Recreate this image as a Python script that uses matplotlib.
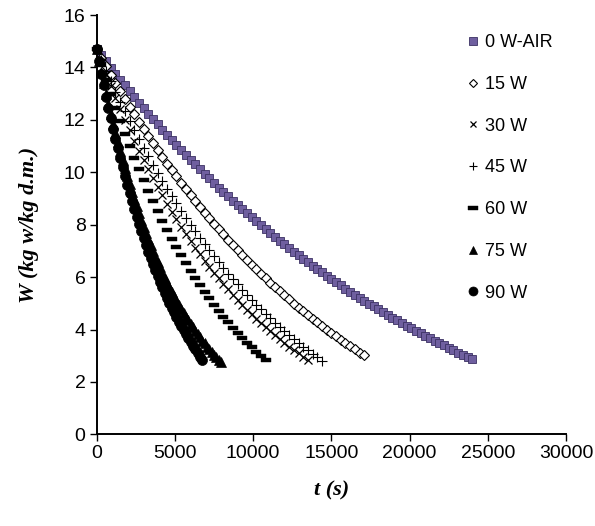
import matplotlib
matplotlib.use("Agg")
import matplotlib.pyplot as plt
import numpy as np

# drying curves: moisture content W (kg w/kg d.m.) vs time t (s)
labels = ["0 W-AIR", "15 W", "30 W", "45 W", "60 W", "75 W", "90 W"]

w_0 = [14.70, 14.46, 14.23, 13.99, 13.77, 13.54, 13.32, 13.10, 12.88, 12.66,
       12.45, 12.24, 12.04, 11.83, 11.63, 11.44, 11.24, 11.05, 10.86, 10.67,
       10.48, 10.30, 10.12, 9.94, 9.77, 9.59, 9.42, 9.25, 9.09, 8.92,
       8.76, 8.60, 8.44, 8.29, 8.13, 7.98, 7.83, 7.68, 7.54, 7.39,
       7.25, 7.11, 6.97, 6.84, 6.70, 6.57, 6.44, 6.31, 6.18, 6.05,
       5.93, 5.81, 5.68, 5.56, 5.45, 5.33, 5.22, 5.10, 4.99, 4.88,
       4.77, 4.66, 4.56, 4.45, 4.35, 4.25, 4.15, 4.05, 3.95, 3.85,
       3.76, 3.66, 3.57, 3.48, 3.39, 3.30, 3.21, 3.12, 3.04, 2.95, 2.87]
w_15 = [14.70, 14.37, 14.04, 13.73, 13.41, 13.11, 12.80, 12.51, 12.22, 11.93,
        11.66, 11.38, 11.11, 10.85, 10.59, 10.33, 10.08, 9.84, 9.60, 9.36,
        9.13, 8.90, 8.68, 8.46, 8.25, 8.04, 7.83, 7.63, 7.43, 7.23,
        7.04, 6.85, 6.66, 6.48, 6.30, 6.13, 5.96, 5.79, 5.62, 5.46,
        5.30, 5.15, 4.99, 4.84, 4.69, 4.55, 4.41, 4.27, 4.13, 4.00,
        3.86, 3.74, 3.61, 3.48, 3.36, 3.24, 3.12, 3.01]
w_30 = [14.70, 14.21, 13.74, 13.29, 12.85, 12.42, 12.00, 11.60, 11.21, 10.83,
        10.47, 10.11, 9.77, 9.44, 9.12, 8.80, 8.50, 8.21, 7.92, 7.65,
        7.38, 7.12, 6.87, 6.63, 6.40, 6.17, 5.95, 5.73, 5.53, 5.33,
        5.13, 4.94, 4.76, 4.58, 4.41, 4.25, 4.08, 3.93, 3.78, 3.63,
        3.49, 3.35, 3.22, 3.09, 2.97, 2.84]
w_45 = [14.70, 14.28, 13.87, 13.47, 13.08, 12.70, 12.33, 11.97, 11.61, 11.27,
        10.94, 10.61, 10.29, 9.98, 9.67, 9.38, 9.09, 8.81, 8.53, 8.26,
        8.00, 7.75, 7.50, 7.26, 7.02, 6.79, 6.57, 6.35, 6.13, 5.92,
        5.72, 5.52, 5.33, 5.14, 4.95, 4.78, 4.60, 4.43, 4.26, 4.10,
        3.94, 3.79, 3.64, 3.49, 3.35, 3.21, 3.07, 2.94, 2.81]
w_60 = [14.70, 14.11, 13.54, 12.99, 12.47, 11.96, 11.47, 11.00, 10.55, 10.11,
        9.69, 9.28, 8.89, 8.52, 8.15, 7.80, 7.47, 7.14, 6.83, 6.53,
        6.24, 5.96, 5.69, 5.44, 5.19, 4.95, 4.72, 4.49, 4.28, 4.07,
        3.87, 3.68, 3.50, 3.32, 3.15, 2.98, 2.83]
w_75 = [14.70, 14.26, 13.83, 13.41, 13.00, 12.61, 12.23, 11.86, 11.50, 11.15,
        10.81, 10.48, 10.16, 9.85, 9.55, 9.26, 8.98, 8.70, 8.44, 8.18,
        7.93, 7.68, 7.45, 7.22, 7.00, 6.78, 6.57, 6.37, 6.17, 5.98,
        5.79, 5.61, 5.44, 5.27, 5.10, 4.94, 4.79, 4.64, 4.49, 4.35,
        4.21, 4.08, 3.95, 3.82, 3.70, 3.58, 3.47, 3.35, 3.25, 3.14,
        3.04, 2.94, 2.84, 2.75]
w_90 = [14.70, 14.23, 13.77, 13.32, 12.89, 12.47, 12.06, 11.67, 11.29, 10.91,
        10.55, 10.20, 9.86, 9.53, 9.21, 8.90, 8.60, 8.31, 8.02, 7.75,
        7.48, 7.22, 6.97, 6.73, 6.49, 6.26, 6.03, 5.82, 5.61, 5.40,
        5.21, 5.01, 4.83, 4.65, 4.47, 4.30, 4.13, 3.97, 3.82, 3.67,
        3.52, 3.38, 3.24, 3.10, 2.97, 2.85]

# sampling interval (s) of each run
steps = [300, 300, 300, 300, 300, 150, 150]
series = [w_0, w_15, w_30, w_45, w_60, w_75, w_90]

dash = [(-1, -0.38), (1, -0.38), (1, 0.38), (-1, 0.38), (-1, -0.38)]
styles = [
    dict(marker="s", ms=6.3, mfc="#6f5f9f", mec="#3b3163", mew=0.6),
    dict(marker="D", ms=4.8, mfc="white", mec="black", mew=0.8),
    dict(marker="x", ms=5.3, mfc="black", mec="black", mew=0.9),
    dict(marker="+", ms=6.8, mfc="black", mec="black", mew=0.8),
    dict(marker=dash, ms=7.5, mfc="black", mec="black", mew=0.3),
    dict(marker="^", ms=6.5, mfc="black", mec="black", mew=0.5),
    dict(marker="o", ms=7.2, mfc="black", mec="black", mew=0.5),
]

plt.rcParams["font.family"] = ["Liberation Sans", "DejaVu Sans"]

fig = plt.figure(figsize=(5.95, 5.26), dpi=100)
ax = fig.add_axes([0.1625, 0.1743, 0.789, 0.797])

for w, st, lab, step in zip(series, styles, labels, steps):
    t = np.arange(len(w)) * step
    ax.plot(t, w, linestyle="none", label=lab, clip_on=False, **st)

ax.set_xlim(0, 30000)
ax.set_ylim(0, 16)
ax.set_xticks(range(0, 30001, 5000))
ax.set_yticks(range(0, 17, 2))
for s in ["top", "right"]:
    ax.spines[s].set_visible(False)
for s in ["left", "bottom"]:
    ax.spines[s].set_linewidth(1.4)
ax.tick_params(direction="out", length=5, width=1, labelsize=14, pad=3)

ax.set_xlabel("t (s)", family="Liberation Serif", style="italic",
              weight="bold", fontsize=16, labelpad=13)
ax.set_ylabel("W (kg w/kg d.m.)", family="Liberation Serif", style="italic",
              weight="bold", fontsize=16, labelpad=18)

fig.legend(loc="upper left", bbox_to_anchor=(0.783, 0.935), frameon=False,
           numpoints=1, handlelength=0.8, handletextpad=0.27,
           labelspacing=1.37, borderpad=0, borderaxespad=0, fontsize=13,
           markerscale=0.9)

fig.savefig("out.png", dpi=100)
